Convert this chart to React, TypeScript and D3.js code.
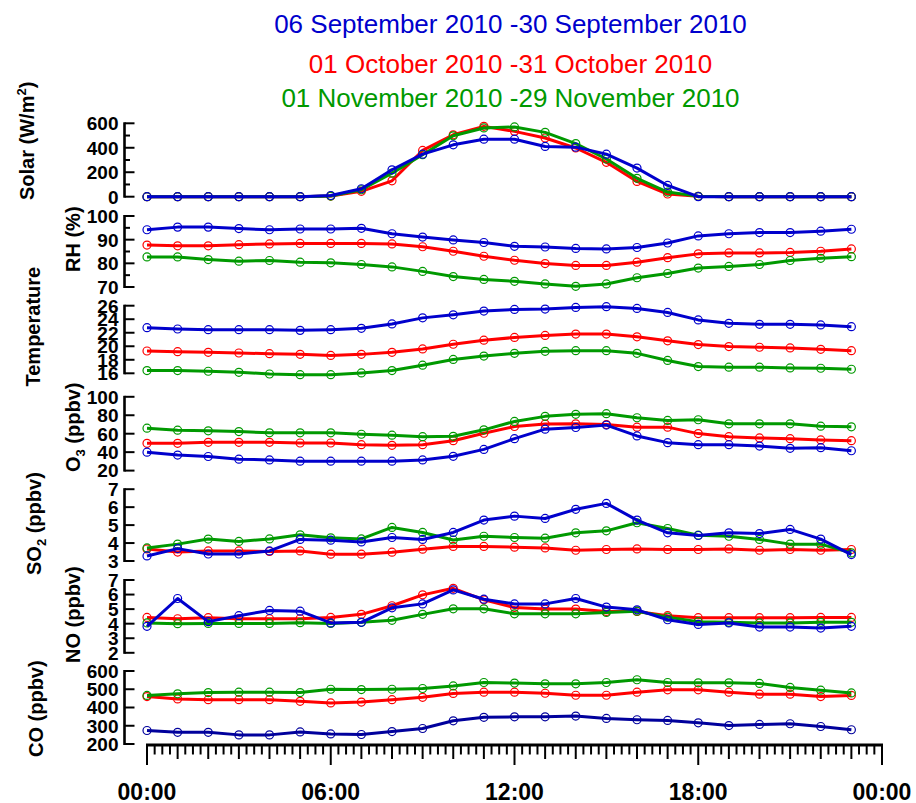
import React, { useEffect, useRef } from 'react';
import * as d3 from 'd3';

// hour of day for each mean value
const hours = d3.range(0, 24);

const periodLabels = [
  '06 September 2010 -30 September 2010',
  '01 October 2010 -31 October 2010',
  '01 November 2010 -29 November 2010',
];

// September (blue), October (red), November (green)
const solarSep = [0, 0, 0, 0, 0, 0, 10, 65, 220, 348, 424, 470, 470, 411, 405, 348, 234, 92, 0, 0, 0, 0, 0, 0];
const solarOct = [0, 0, 0, 0, 0, 0, 5, 44, 130, 378, 506, 575, 534, 480, 398, 281, 125, 22, 3, 0, 0, 0, 0, 0];
const solarNov = [0, 0, 0, 0, 0, 0, 5, 57, 193, 343, 498, 562, 570, 526, 434, 308, 150, 38, 3, 0, 0, 0, 0, 0];

const rhSep = [94.2, 95.3, 95.3, 94.7, 94.2, 94.5, 94.5, 94.8, 92.5, 91.1, 89.9, 88.8, 87.2, 86.9, 86.3, 86.1, 86.7, 88.6, 91.6, 92.5, 93.0, 93.0, 93.6, 94.4];
const rhOct = [87.7, 87.4, 87.4, 87.9, 88.2, 88.4, 88.4, 88.4, 88.2, 87.0, 85.1, 83.0, 81.3, 79.9, 79.1, 79.1, 80.5, 82.4, 84.0, 84.4, 84.4, 84.6, 85.1, 86.1];
const rhNov = [82.7, 82.7, 81.6, 80.9, 81.2, 80.5, 80.2, 79.5, 78.5, 76.6, 74.4, 73.2, 72.4, 71.3, 70.3, 71.3, 73.9, 75.7, 78.0, 78.7, 79.5, 81.2, 82.1, 82.8];

const tempSep = [22.75, 22.55, 22.45, 22.45, 22.45, 22.35, 22.45, 22.65, 23.3, 24.2, 24.65, 25.2, 25.45, 25.5, 25.75, 25.85, 25.6, 25.0, 23.9, 23.4, 23.25, 23.25, 23.15, 22.9];
const tempOct = [19.3, 19.2, 19.1, 19.0, 18.9, 18.8, 18.65, 18.8, 19.1, 19.6, 20.3, 20.9, 21.3, 21.6, 21.8, 21.8, 21.4, 20.8, 20.25, 19.95, 19.85, 19.75, 19.55, 19.35];
const tempNov = [16.4, 16.4, 16.3, 16.15, 15.9, 15.8, 15.8, 16.05, 16.4, 17.2, 18.05, 18.55, 18.95, 19.25, 19.35, 19.35, 18.95, 17.9, 17.0, 16.9, 16.9, 16.8, 16.75, 16.6];

const o3Sep = [40, 36.8, 35.3, 32.4, 31.6, 30.2, 30.2, 30.2, 30.2, 31.6, 35.5, 43, 54.6, 64.9, 66.7, 69.3, 57.6, 50.3, 48.1, 48.1, 46.6, 44.1, 44.8, 41.5];
const o3Oct = [49.6, 49.6, 50.7, 50.7, 50.7, 49.9, 49.9, 48.1, 47.4, 48.1, 52.4, 60.5, 67.8, 70.4, 70.7, 70, 67.1, 67.1, 60.1, 56.8, 55.4, 54.6, 53.2, 52.4];
const o3Nov = [66, 63.8, 63.1, 62.3, 60.9, 60.9, 60.9, 59.4, 58.4, 56.8, 57.2, 64.2, 73.3, 78.8, 81, 81.7, 77.3, 74.4, 75.1, 70.7, 70.7, 70.7, 68.2, 67.5];

const so2Sep = [3.28, 3.69, 3.39, 3.39, 3.56, 4.2, 4.16, 4.06, 4.31, 4.2, 4.59, 5.28, 5.5, 5.37, 5.88, 6.21, 5.28, 4.57, 4.42, 4.57, 4.53, 4.76, 4.22, 3.36];
const so2Oct = [3.67, 3.5, 3.56, 3.56, 3.53, 3.56, 3.38, 3.38, 3.49, 3.66, 3.81, 3.81, 3.77, 3.73, 3.6, 3.64, 3.67, 3.64, 3.64, 3.67, 3.6, 3.64, 3.6, 3.64];
const so2Nov = [3.73, 3.94, 4.22, 4.09, 4.23, 4.46, 4.29, 4.23, 4.87, 4.59, 4.17, 4.38, 4.31, 4.27, 4.57, 4.68, 5.13, 4.81, 4.44, 4.38, 4.2, 3.94, 3.94, 3.45];

const noSep = [3.82, 5.73, 4.14, 4.55, 4.91, 4.86, 4.05, 4.09, 5.09, 5.36, 6.32, 5.68, 5.36, 5.36, 5.73, 5.14, 4.95, 4.27, 3.95, 4.05, 3.77, 3.77, 3.7, 3.82];
const noOct = [4.43, 4.34, 4.41, 4.34, 4.34, 4.34, 4.43, 4.64, 5.23, 5.98, 6.43, 5.64, 5.11, 5.0, 5.0, 4.84, 4.84, 4.55, 4.41, 4.41, 4.41, 4.41, 4.43, 4.43];
const noNov = [4.05, 4.0, 4.02, 4.02, 4.02, 4.07, 4.02, 4.09, 4.23, 4.64, 5.02, 5.02, 4.68, 4.68, 4.68, 4.77, 4.86, 4.45, 4.14, 4.09, 4.05, 4.05, 4.09, 4.09];

const coSep = [274, 264, 264, 250, 250, 266, 255, 252, 268, 285, 327, 346, 349, 349, 353, 340, 333, 329, 316, 301, 307, 311, 296, 278];
const coOct = [460, 447, 443, 443, 443, 434, 425, 430, 443, 456, 477, 484, 484, 478, 467, 467, 484, 497, 497, 484, 473, 473, 460, 466];
const coNov = [466, 475, 482, 484, 484, 482, 500, 498, 500, 504, 518, 537, 534, 530, 530, 537, 552, 537, 535, 535, 532, 510, 495, 480];

const xTickLabels = ['00:00', '06:00', '12:00', '18:00', '00:00'];

const BLUE = '#0000CC';
const RED = '#FF0000';
const GREEN = '#009900';

const panels = [
  { key: 'solar', domain: [0, 600], px: [196.7, 123.3], major: [0, 200, 400, 600], minor: [100, 300, 500], sep: solarSep, oct: solarOct, nov: solarNov, blue: BLUE },
  { key: 'rh', domain: [70, 100], px: [287, 216], major: [70, 80, 90, 100], minor: [75, 85, 95], sep: rhSep, oct: rhOct, nov: rhNov, blue: BLUE },
  { key: 'temp', domain: [16, 26], px: [373.3, 305.7], major: [16, 18, 20, 22, 24, 26], minor: [], sep: tempSep, oct: tempOct, nov: tempNov, blue: BLUE },
  { key: 'o3', domain: [20, 100], px: [470.6, 396.8], major: [20, 40, 60, 80, 100], minor: [], sep: o3Sep, oct: o3Oct, nov: o3Nov, blue: BLUE },
  { key: 'so2', domain: [3, 7], px: [561, 489.2], major: [3, 4, 5, 6, 7], minor: [], sep: so2Sep, oct: so2Oct, nov: so2Nov, blue: BLUE },
  { key: 'no', domain: [2, 7], px: [652.8, 580], major: [2, 3, 4, 5, 6, 7], minor: [], sep: noSep, oct: noOct, nov: noNov, blue: BLUE },
  { key: 'co', domain: [200, 600], px: [744, 671], major: [200, 300, 400, 500, 600], minor: [], sep: coSep, oct: coOct, nov: coNov, blue: '#00009C' },
];

export default function App() {
  const ref = useRef<SVGSVGElement>(null);

  useEffect(() => {
    const svg = d3.select(ref.current);
    svg.selectAll('*').remove();

    const font = 'Arial, "Liberation Sans", Helvetica, sans-serif';
    const x = d3.scaleLinear().domain([0, 24]).range([147, 882]);
    const axisX = 124.5;

    // titles
    const titleY = [33, 72.5, 106.5];
    const titleCol = [BLUE, RED, GREEN];
    periodLabels.forEach((t, i) => {
      svg.append('text').attr('x', 510.5).attr('y', titleY[i])
        .attr('text-anchor', 'middle').attr('font-family', font).attr('font-size', 26)
        .attr('fill', titleCol[i]).text(t);
    });

    panels.forEach(p => {
      const y = d3.scaleLinear().domain(p.domain).range(p.px);
      const g = svg.append('g');

      // y axis line + ticks (ticks point inward)
      g.append('line').attr('x1', axisX).attr('x2', axisX)
        .attr('y1', y(p.domain[0]) + 1).attr('y2', y(p.domain[1]) - 1)
        .attr('stroke', '#000').attr('stroke-width', 2.6);
      p.major.forEach(v => {
        g.append('line').attr('x1', axisX).attr('x2', axisX + 10)
          .attr('y1', y(v)).attr('y2', y(v)).attr('stroke', '#000').attr('stroke-width', 2);
        g.append('text').attr('x', 118.5).attr('y', y(v)).attr('dy', '0.36em')
          .attr('text-anchor', 'end').attr('font-family', font).attr('font-weight', 'bold')
          .attr('font-size', 19).attr('fill', '#000').text(v);
      });
      p.minor.forEach(v => {
        g.append('line').attr('x1', axisX).attr('x2', axisX + 5.5)
          .attr('y1', y(v)).attr('y2', y(v)).attr('stroke', '#000').attr('stroke-width', 2);
      });

      const series = [
        { vals: p.oct, col: RED },
        { vals: p.nov, col: GREEN },
        { vals: p.sep, col: p.blue },
      ];
      const line = d3.line<number>().x((d, i) => x(hours[i])).y(d => y(d));
      series.forEach(s => {
        g.append('path').datum(s.vals).attr('d', line)
          .attr('fill', 'none').attr('stroke', s.col).attr('stroke-width', 3)
          .attr('stroke-linejoin', 'round');
        g.selectAll(null).data(s.vals).join('circle')
          .attr('cx', (d, i) => x(hours[i])).attr('cy', d => y(d)).attr('r', 4)
          .attr('fill', 'none').attr('stroke', s.col).attr('stroke-width', 1.2);
      });
    });

    // y axis titles, rotated, starting at the bottom
    const labels = [
      { x: 34, y: 200, parts: [['Solar (W/m', 0], ['2', -1], [')', 0]] },
      { x: 80, y: 272, parts: [['RH (%)', 0]] },
      { x: 39.5, y: 386.5, parts: [['Temperature', 0]] },
      { x: 80, y: 472, parts: [['O', 0], ['3', 1], [' (ppbv)', 0]] },
      { x: 40.5, y: 575, parts: [['SO', 0], ['2', 1], [' (ppbv)', 0]] },
      { x: 80, y: 663, parts: [['NO (ppbv)', 0]] },
      { x: 42.5, y: 757, parts: [['CO (ppbv)', 0]] },
    ];
    labels.forEach(l => {
      const t = svg.append('text').attr('transform', `translate(${l.x},${l.y}) rotate(-90)`)
        .attr('font-family', font).attr('font-weight', 'bold').attr('font-size', 20).attr('fill', '#000');
      let shift = 0;
      l.parts.forEach(([txt, s]) => {
        const target = s === -1 ? -8 : s === 1 ? 5 : 0;
        t.append('tspan').attr('dy', target - shift).attr('font-size', s === 0 ? 20 : 13).text(txt as string);
        shift = target;
      });
    });

    // x axis
    const axisY = 745;
    svg.append('line').attr('x1', 146).attr('x2', 883).attr('y1', axisY).attr('y2', axisY)
      .attr('stroke', '#000').attr('stroke-width', 3);
    d3.range(0, 97).forEach(q => {
      const len = q % 24 === 0 ? 20 : q % 4 === 0 ? 14 : 9.5;
      svg.append('line').attr('x1', x(q / 4)).attr('x2', x(q / 4))
        .attr('y1', axisY).attr('y2', axisY + len).attr('stroke', '#000').attr('stroke-width', 2);
    });
    xTickLabels.forEach((t, i) => {
      svg.append('text').attr('x', x(i * 6)).attr('y', 800).attr('text-anchor', 'middle')
        .attr('font-family', font).attr('font-weight', 'bold').attr('font-size', 23)
        .attr('fill', '#000').text(t);
    });
  }, []);

  return (
    <svg ref={ref} width={916} height={803}
      style={{ position: 'absolute', left: 0, top: 0, display: 'block', background: '#fff' }} />
  );
}
